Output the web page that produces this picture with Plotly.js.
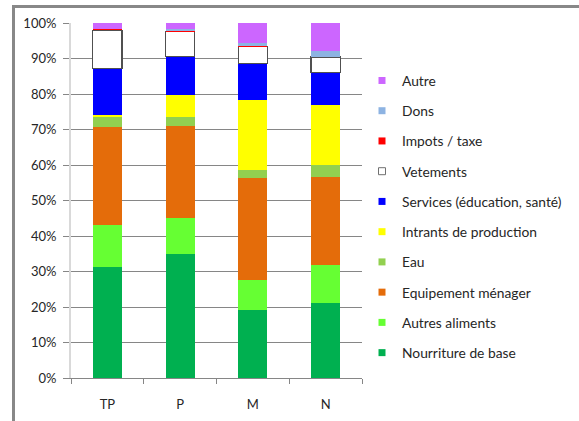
<!DOCTYPE html>
<html>
<head>
<meta charset="utf-8">
<script src="https://cdn.plot.ly/plotly-3.0.1.min.js"></script>
<style>
html, body { margin:0; padding:0; background:#fff; }
#frame { position:absolute; left:12px; top:5px; width:580px; height:430px; border-left:3px solid #888; border-top:3px solid #888; }
#chart { position:absolute; left:0; top:0; width:579px; height:421px; }
</style>
</head>
<body>
<div id="frame"></div>
<div id="chart"></div>
<script>
var categories = ['TP', 'P', 'M', 'N'];
var seriesNames = ['Nourriture de base', 'Autres aliments', 'Equipement ménager', 'Eau', 'Intrants de production', 'Services (éducation, santé)', 'Vetements', 'Impots / taxe', 'Dons', 'Autre'];
var nourriture = [31.4, 34.8, 19.1, 21.2];
var autresAliments = [11.6, 10.4, 8.4, 10.5];
var equipement = [27.6, 25.7, 28.7, 25.0];
var eau = [2.8, 2.5, 2.5, 3.2];
var intrants = [0.6, 6.2, 19.7, 17.1];
var services = [13.1, 11.0, 10.1, 9.0];
var vetements = [10.9, 6.9, 4.8, 4.4];
var impots = [0.3, 0.3, 0.2, 0.0];
var dons = [0.0, 0.4, 1.0, 1.8];
var autre = [1.7, 1.8, 5.5, 7.8];
var values = [nourriture, autresAliments, equipement, eau, intrants, services, vetements, impots, dons, autre];
var colors = ['#00b050', '#66ff33', '#e46c0a', '#92d050', '#ffff00', '#0000ff', '#ffffff', '#ff0000', '#8db3e2', '#cc66ff'];
var lineColors = ['#00b050', '#66ff33', '#e46c0a', '#92d050', '#ffff00', '#0000ff', '#505050', '#ff0000', '#8db3e2', '#cc66ff'];

var traces = [];
for (var i = 0; i < seriesNames.length; i++) {
  traces.push({
    type: 'bar', x: categories, y: values[i], name: seriesNames[i],
    marker: { color: colors[i], line: { color: lineColors[i], width: i === 6 ? 1.2 : 0 } },
    showlegend: false, hoverinfo: 'skip'
  });
}
// legend-only entries, top to bottom: Autre ... Nourriture de base
for (var j = seriesNames.length - 1; j >= 0; j--) {
  traces.push({
    type: 'scatter', mode: 'markers', x: [null], y: [null], name: seriesNames[j],
    legendgroup: 'g' + (seriesNames.length - 1 - j),
    marker: { symbol: 'square', size: 7, color: colors[j], line: { color: j === 6 ? '#707070' : colors[j], width: j === 6 ? 1 : 0 } },
    showlegend: true, hoverinfo: 'skip'
  });
}

var layout = {
  width: 579, height: 421,
  margin: { l: 71, r: 217, t: 23, b: 43 },
  paper_bgcolor: 'rgba(0,0,0,0)', plot_bgcolor: 'rgba(0,0,0,0)',
  barmode: 'stack', bargap: 0.6,
  font: { family: 'Lato, "Open Sans", sans-serif', size: 13, color: '#262626' },
  showlegend: true,
  legend: {
    xanchor: 'left', x: (362 - 71) / 291,
    yanchor: 'top', y: (421 - 43 - 65) / 355,
    traceorder: 'grouped', tracegroupgap: 9.3,
    font: { size: 13.8, color: '#262626' }, itemwidth: 30
  },
  xaxis: {
    type: 'category', showgrid: false, showline: true, linecolor: '#868686', linewidth: 1,
    ticks: 'outside', tickson: 'boundaries', ticklen: 5, tickcolor: '#868686',
    ticklabelstandoff: 14, zeroline: false
  },
  yaxis: {
    range: [0, 100], dtick: 10, ticksuffix: '%', showgrid: true, gridcolor: '#868686', gridwidth: 1,
    showline: true, linecolor: '#d9d9d9', linewidth: 2, ticks: 'outside', ticklen: 6, tickcolor: '#868686',
    zeroline: false, ticklabelstandoff: 4
  }
};
Plotly.newPlot('chart', traces, layout, { displayModeBar: false, staticPlot: true });
</script>
</body>
</html>
